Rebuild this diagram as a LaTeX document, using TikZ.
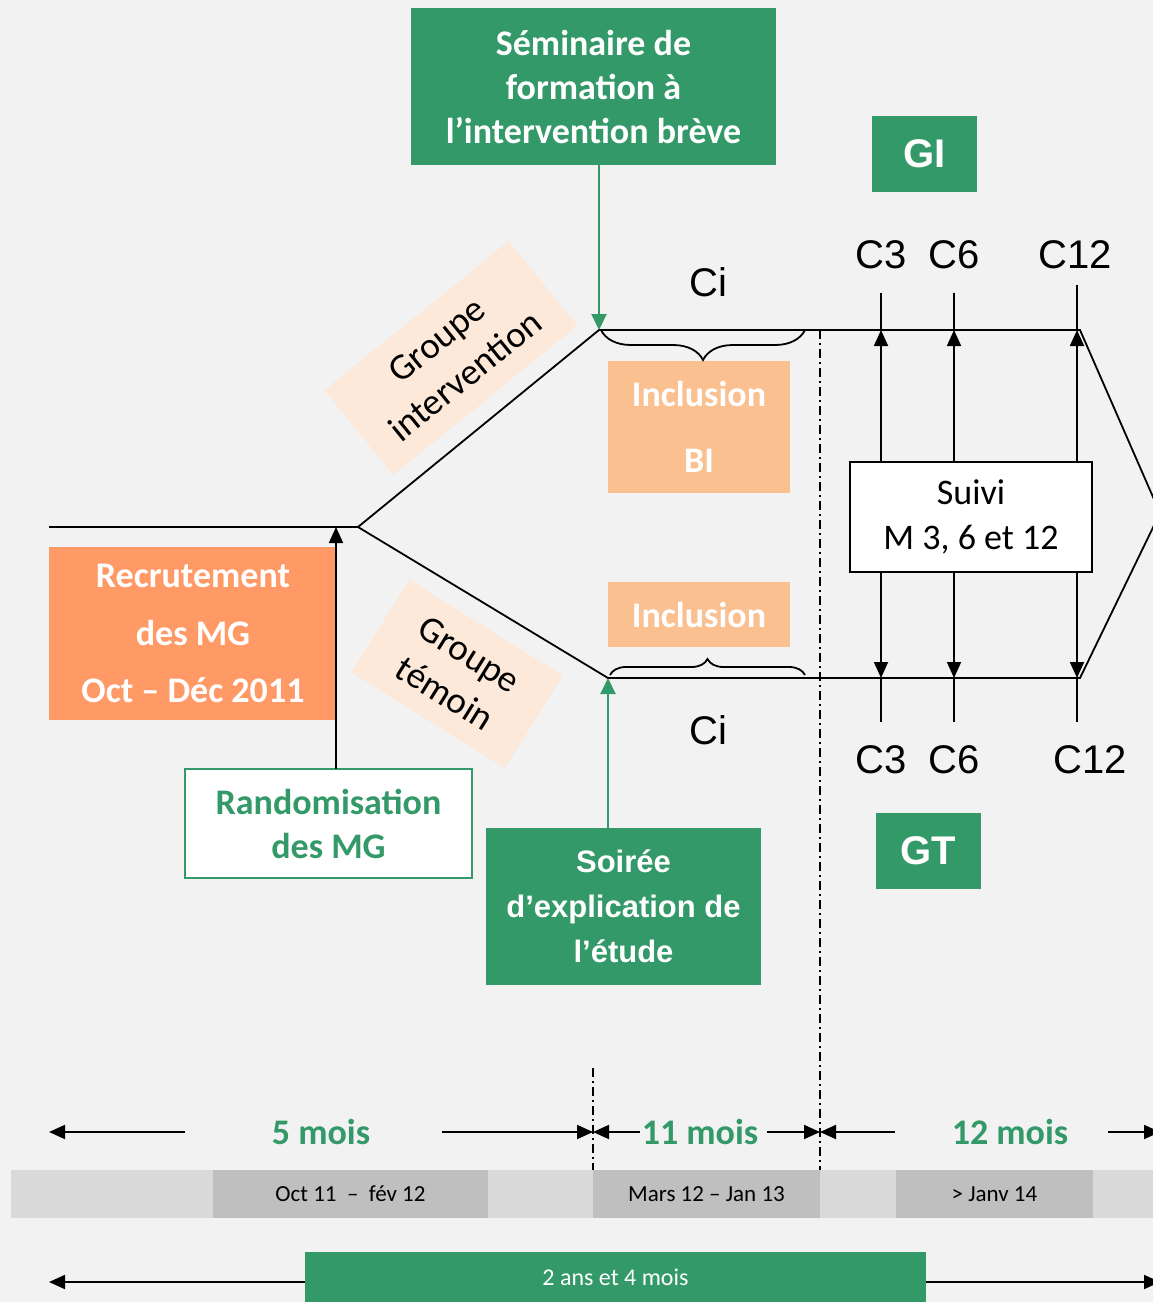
\documentclass[tikz,border=0pt]{standalone}
\usepackage{fontspec}
\setmainfont{Carlito}
\newfontfamily\arial{Liberation Sans}
\usepackage{tikz}
\usetikzlibrary{positioning}
\usetikzlibrary{arrows.meta}
\usetikzlibrary{decorations.pathreplacing}

\definecolor{fond}{RGB}{242,242,242}
\definecolor{vert}{RGB}{52,153,104}
\definecolor{orfonce}{RGB}{255,153,102}
\definecolor{orclair}{RGB}{250,192,144}
\definecolor{peche}{RGB}{253,233,217}
\definecolor{grisc}{RGB}{217,217,217}
\definecolor{grisf}{RGB}{191,191,191}

\tikzset{
  boite/.style={rectangle, inner sep=0pt, outer sep=0pt, align=center},
  vbox/.style={boite, fill=vert, text=white},
  obox/.style={boite, fill=orfonce, text=white, font=\bfseries\fontsize{36}{57.5}\selectfont},
  ibox/.style={boite, fill=orclair, text=white, font=\bfseries\fontsize{36}{66}\selectfont},
  gbox/.style={boite, fill=peche, font=\fontsize{37}{46}\selectfont},
  lab/.style={font=\arial\fontsize{40}{40}\selectfont},
  tbox/.style={boite, fill=grisf, minimum height=48pt, font=\fontsize{23}{23}\selectfont},
  mois/.style={text=vert, font=\bfseries\fontsize{36}{36}\selectfont},
  trait/.style={line width=1.8pt},
  fl/.style={trait, -{Triangle[length=16pt,width=14pt]}},
  vfl/.style={line width=2pt, vert, -{Triangle[length=16pt,width=15pt]}},
  tiret/.style={line width=1.6pt, dash pattern=on 9pt off 4pt on 2pt off 4pt},
  acc/.style={trait, decorate, decoration={brace, amplitude=#1}}
}

\begin{document}
\begin{tikzpicture}[x=1pt, y=-1pt]
\useasboundingbox (0,0) rectangle (1153,1302);
\clip (0,0) rectangle (1153,1302);
\fill[fond] (0,0) rectangle (1153,1302);

% Define points
\coordinate (d) at (49,527);
\coordinate (r) at (336,527);
\coordinate (s) at (358,527);
\coordinate (h) at (599,330);
\coordinate (b) at (608,678);
\coordinate (hf) at (1080,330);
\coordinate (bf) at (1080,678);
\coordinate (p) at (1160,513);
\coordinate (ah0) at (601,330);
\coordinate (ah) at (805,330);
\coordinate (ab0) at (610,675);
\coordinate (ab) at (805,675);
\coordinate (l1) at (820,330);
\coordinate (l1b) at (820,1170);
\coordinate (l2) at (593,1068);
\coordinate (l2b) at (593,1218);

% Define nodes
% Group labels
\node[gbox, minimum width=237pt, minimum height=109pt, rotate=39] (gint) at (451,358) {Groupe\\intervention};
\node[gbox, minimum width=181pt, minimum height=109pt, rotate=-32] (gtem) at (457,674) {Groupe\\témoin};

% Top nodes
\node[vbox, minimum width=365pt, minimum height=157pt, font=\bfseries\fontsize{36}{44}\selectfont] (sem) at (593.5,86.5) {Séminaire de\\formation à\\l’intervention brève};
\node[vbox, minimum width=105pt, minimum height=76pt, font=\arial\bfseries\fontsize{40}{40}\selectfont] (gi) at (924.5,154) {GI};
\node[lab] (ci1) at (708,282) {Ci};
\node[lab] (c3h) at (881,255) {C3};
\node[lab] (c6h) at (954,255) {C6};
\node[lab] (c12h) at (1075,255) {C12};

% Middle nodes
\node[ibox, minimum width=182pt, minimum height=132pt] (ibi) at (699,427) {Inclusion\\BI};
\node[ibox, minimum width=182pt, minimum height=65pt] (inc) at (699,614.5) {Inclusion};
\node[boite, fill=white, draw, line width=1.8pt, minimum width=242pt, minimum height=110pt, font=\fontsize{36}{45}\selectfont] (suivi) at (971,517) {Suivi\\M 3, 6 et 12};
\node[obox, minimum width=288pt, minimum height=173pt] (rec) at (193,633.5) {Recrutement\\des MG\\Oct – Déc 2011};

% Bottom nodes
\node[lab] (ci2) at (708,730) {Ci};
\node[lab] (c3b) at (881,760) {C3};
\node[lab] (c6b) at (954,760) {C6};
\node[lab] (c12b) at (1090,760) {C12};
\node[boite, fill=white, draw=vert, line width=2pt, text=vert, minimum width=287pt, minimum height=109pt, font=\bfseries\fontsize{36}{44}\selectfont] (rand) at (328.5,823.5) {Randomisation\\des MG};
\node[vbox, minimum width=275pt, minimum height=157pt, font=\arial\bfseries\fontsize{31}{45}\selectfont] (soir) at (623.5,906.5) {Soirée\\d’explication de\\l’étude};
\node[vbox, minimum width=105pt, minimum height=76pt, font=\arial\bfseries\fontsize{40}{40}\selectfont] (gt) at (928.5,851) {GT};

% Edges
\draw[trait] (d) -- (s) -- (h) -- (hf) -- (p);
\draw[trait] (s) -- (b) -- (bf) -- (p);
\draw[fl] (rand.north -| r) -- (r);
\draw[vfl] (sem.south -| h) -- (h);
\draw[vfl] (soir.north -| b) -- (b);
\draw[acc=30, decoration={mirror}] (ah0) -- (ah);
\draw[acc=16] (ab0) -- (ab);
\draw[tiret] (l1) -- (l1b);
\draw[tiret] (l2) -- (l2b);

% Follow-up columns
\foreach \n/\x/\t in {c3/881/293, c6/954/293, c12/1077/285} {
  \draw[trait] (\x,\t) -- (\x,330);
  \draw[fl] (suivi.north -| {(\x,0)}) -- (\x,330);
  \draw[fl] (suivi.south -| {(\x,0)}) -- (\x,678);
  \draw[trait] (\x,678) -- (\x,722);
}

% Time bar
\fill[grisc] (11,1170) rectangle (1153,1218);
\node[tbox, minimum width=275pt] (p1) at (350.5,1194) {Oct 11 \ – \ fév 12};
\node[tbox, minimum width=227pt] (p2) at (706.5,1194) {Mars 12 – Jan 13};
\node[tbox, minimum width=197pt] (p3) at (994.5,1194) {> Janv 14};
\node[mois] (m5) at (321,1132) {5 mois};
\node[mois] (m11) at (700,1132) {11 mois};
\node[mois] (m12) at (1010,1132) {12 mois};
\coordinate (t0) at (49,1132);
\coordinate (t1) at (185,1132);
\coordinate (t2) at (442,1132);
\coordinate (t3) at (593,1132);
\coordinate (t4) at (640,1132);
\coordinate (t5) at (767,1132);
\coordinate (t6) at (820,1132);
\coordinate (t7) at (895,1132);
\coordinate (t8) at (1108,1132);
\coordinate (t9) at (1160,1132);
\draw[fl] (t1) -- (t0);
\draw[fl] (t2) -- (t3);
\draw[fl] (t4) -- (t3);
\draw[fl] (t5) -- (t6);
\draw[fl] (t7) -- (t6);
\draw[fl] (t8) -- (t9);

% Total duration
\node[vbox, minimum width=621pt, minimum height=50pt, font=\fontsize{24}{24}\selectfont] (deux) at (615.5,1277) {2 ans et 4 mois};
\coordinate (u0) at (49,1282);
\coordinate (u1) at (1160,1282);
\draw[fl] (deux.west |- u0) -- (u0);
\draw[fl] (deux.east |- u1) -- (u1);
\end{tikzpicture}
\end{document}
